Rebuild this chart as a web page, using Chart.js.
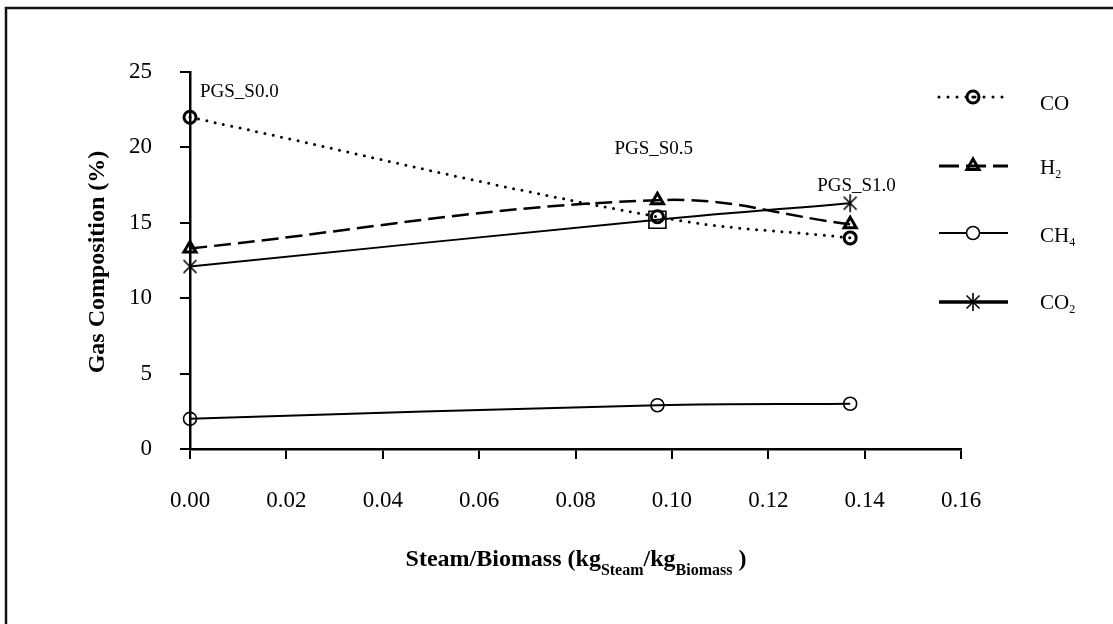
<!DOCTYPE html>
<html><head><meta charset="utf-8">
<script src="https://cdn.jsdelivr.net/npm/chart.js@4.4.0/dist/chart.umd.min.js"></script>
<style>html,body{margin:0;padding:0;background:#fff;}#wrap{width:1113px;height:624px;position:relative;}</style>
</head><body><div id="wrap"><canvas id="c" width="1113" height="624"></canvas></div>
<script>
// ---- data ----
const xValues = [0.0, 0.097, 0.137];
const coValues = [22.0, 15.4, 14.0];
const h2Values = [13.3, 16.5, 14.9];
const ch4Values = [2.0, 2.9, 3.0];
const co2Values = [12.1, 15.2, 16.3];
const pointLabels = ['PGS_S0.0', 'PGS_S0.5', 'PGS_S1.0'];
const seriesNames = [['CO', ''], ['H', '2'], ['CH', '4'], ['CO', '2']];
const xTicks = [0, 0.02, 0.04, 0.06, 0.08, 0.10, 0.12, 0.14, 0.16];
const yTicks = [0, 5, 10, 15, 20, 25];
const yTitle = 'Gas Composition (%)';
const xTitleParts = [['Steam/Biomass (kg', false], ['Steam', true], ['/kg', false], ['Biomass', true], [' )', false]];

const FONT = "'Liberation Serif', 'Times New Roman', serif";

function makeAsterisk(size, lw) {
  const c = document.createElement('canvas');
  c.width = size; c.height = size;
  const g = c.getContext('2d');
  g.strokeStyle = '#000'; g.lineWidth = lw;
  const h = size / 2, r = size / 2 - 1;
  const d = r * 0.72;
  g.beginPath();
  g.moveTo(h, h - r); g.lineTo(h, h + r);
  g.moveTo(h - d, h - d); g.lineTo(h + d, h + d);
  g.moveTo(h + d, h - d); g.lineTo(h - d, h + d);
  g.stroke();
  return c;
}
const ast = makeAsterisk(20, 1.6);

const pts = (ys) => xValues.map((x, i) => ({ x: x, y: ys[i] }));

const common = { borderColor: '#000', pointBorderColor: '#000', pointBackgroundColor: 'rgba(0,0,0,0)', tension: 0.4, clip: false, fill: false };

const datasets = [
  Object.assign({}, common, { label: 'CO', data: pts(coValues), borderWidth: 3, borderDash: [0, 8.5], borderCapStyle: 'round',
    pointStyle: 'circle', pointRadius: 6, pointBorderWidth: 3 }),
  Object.assign({}, common, { label: 'H2', data: pts(h2Values), borderWidth: 2.5, borderDash: [17, 7],
    pointStyle: 'triangle', pointRadius: 7, pointBorderWidth: 3 }),
  Object.assign({}, common, { label: 'CH4', data: pts(ch4Values), borderWidth: 2,
    pointStyle: 'circle', pointRadius: 6.5, pointBorderWidth: 1.6 }),
  Object.assign({}, common, { label: 'CO2', data: pts(co2Values), borderWidth: 2,
    pointStyle: [ast, 'rect', ast], pointRadius: [10, 12, 10], pointBorderWidth: 1.6 })
];

function drawMarker(ctx, type, x, y) {
  ctx.save();
  ctx.strokeStyle = '#000'; ctx.setLineDash([]);
  if (type === 'co') {
    ctx.lineWidth = 3; ctx.beginPath(); ctx.arc(x, y, 6, 0, Math.PI * 2); ctx.stroke();
    ctx.fillStyle = '#000'; ctx.beginPath(); ctx.arc(x, y, 1.6, 0, Math.PI * 2); ctx.fill();
  } else if (type === 'h2') {
    ctx.lineWidth = 3; const r = 7; ctx.beginPath();
    for (let k = 0; k < 3; k++) { const a = k * 2 * Math.PI / 3; const px = x + Math.sin(a) * r, py = y - Math.cos(a) * r; k ? ctx.lineTo(px, py) : ctx.moveTo(px, py); }
    ctx.closePath(); ctx.stroke();
  } else if (type === 'ch4') {
    ctx.fillStyle = '#fff'; ctx.lineWidth = 1.6; ctx.beginPath(); ctx.arc(x, y, 6.5, 0, Math.PI * 2); ctx.fill(); ctx.stroke();
  } else if (type === 'co2') {
    ctx.drawImage(ast, x - 10, y - 10);
  }
  ctx.restore();
}

const decor = {
  id: 'decor',
  afterDraw(chart) {
    const ctx = chart.ctx;
    const xs = chart.scales.x, ys = chart.scales.y;
    ctx.save();
    // outer frame (top and left)
    ctx.strokeStyle = '#111'; ctx.lineWidth = 2.5;
    ctx.beginPath(); ctx.moveTo(6, 630); ctx.lineTo(6, 8); ctx.lineTo(1120, 8); ctx.stroke();

    // y title
    ctx.fillStyle = '#000';
    ctx.font = 'bold 24px ' + FONT;
    ctx.save(); ctx.translate(104, 262); ctx.rotate(-Math.PI / 2);
    ctx.textAlign = 'center'; ctx.textBaseline = 'alphabetic';
    ctx.fillText(yTitle, 0, 0); ctx.restore();

    // x title with subscripts
    const big = 'bold 24px ' + FONT, small = 'bold 16px ' + FONT;
    let total = 0;
    xTitleParts.forEach(([t, s]) => { ctx.font = s ? small : big; total += ctx.measureText(t).width; });
    let cx = 576 - total / 2;
    ctx.textAlign = 'left'; ctx.textBaseline = 'alphabetic';
    xTitleParts.forEach(([t, s]) => {
      ctx.font = s ? small : big;
      ctx.fillText(t, cx, s ? 575 : 566);
      cx += ctx.measureText(t).width;
    });

    // point labels
    ctx.font = '19px ' + FONT;
    const offs = [[10, -20, coValues], [-43, -46, h2Values], [-33, -12, co2Values]];
    pointLabels.forEach((t, i) => {
      const px = xs.getPixelForValue(xValues[i]) + offs[i][0];
      const py = ys.getPixelForValue(offs[i][2][i]) + offs[i][1];
      ctx.fillText(t, px, py);
    });

    // legend
    const rows = [
      { y: 97, base: 110, dash: [0, 9], w: 3, cap: 'round', m: 'co' },
      { y: 166, base: 174, dash: [20, 7], w: 3, cap: 'butt', m: 'h2' },
      { y: 233, base: 242, dash: [], w: 2, cap: 'butt', m: 'ch4' },
      { y: 302, base: 309, dash: [], w: 3.5, cap: 'butt', m: 'co2' }
    ];
    rows.forEach((r, i) => {
      ctx.save();
      ctx.strokeStyle = '#000'; ctx.lineWidth = r.w; ctx.lineCap = r.cap; ctx.setLineDash(r.dash);
      ctx.beginPath(); ctx.moveTo(939, r.y); ctx.lineTo(1008, r.y); ctx.stroke();
      ctx.restore();
      drawMarker(ctx, r.m, 973, r.y);
      const [main, sub] = seriesNames[i];
      ctx.fillStyle = '#000';
      ctx.font = '21px ' + FONT; ctx.textAlign = 'left';
      ctx.fillText(main, 1040, r.base);
      const wm = ctx.measureText(main).width;
      if (sub) { ctx.font = '12px ' + FONT; ctx.fillText(sub, 1040 + wm, r.base + 4); }
    });
    ctx.restore();
  }
};

new Chart(document.getElementById('c'), {
  type: 'line',
  data: { datasets: datasets },
  options: {
    responsive: false, animation: false, devicePixelRatio: 1,
    events: [],
    layout: { padding: { left: 0, top: 72, right: 152, bottom: 0 } },
    plugins: { legend: { display: false }, tooltip: { enabled: false } },
    scales: {
      x: {
        type: 'linear', min: 0, max: 0.16,
        afterBuildTicks: s => { s.ticks = xTicks.map(v => ({ value: v })); },
        afterFit: s => { s.height = 175; },
        ticks: { color: '#000', font: { family: FONT, size: 23 }, padding: 28, maxRotation: 0, autoSkip: false,
          callback: v => Number(v).toFixed(2) },
        grid: { drawOnChartArea: false, drawTicks: true, tickLength: 10, color: '#000', lineWidth: 2 },
        border: { display: true, color: '#000', width: 2.5 }
      },
      y: {
        type: 'linear', min: 0, max: 25,
        afterBuildTicks: s => { s.ticks = yTicks.map(v => ({ value: v })); },
        afterFit: s => { s.width = 190; },
        ticks: { color: '#000', font: { family: FONT, size: 23 }, padding: 28, autoSkip: false },
        grid: { drawOnChartArea: false, drawTicks: true, tickLength: 10, color: '#000', lineWidth: 2 },
        border: { display: true, color: '#000', width: 2.5 }
      }
    }
  },
  plugins: [decor]
});
</script></body></html>
